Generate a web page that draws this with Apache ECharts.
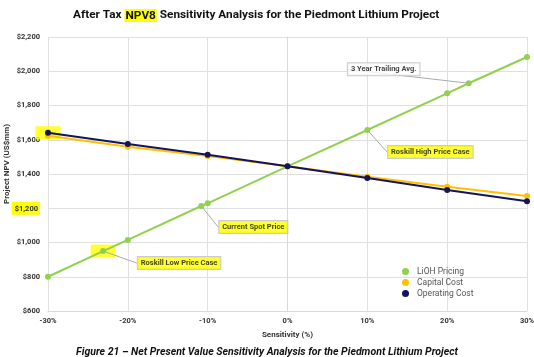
<!DOCTYPE html>
<html><head><meta charset="utf-8">
<script src="https://cdn.jsdelivr.net/npm/echarts@6/dist/echarts.min.js"></script>
<style>html,body{margin:0;padding:0;background:#fff}#c{width:534px;height:357px}</style>
</head><body><div id="c"></div>
<script>
// Sensitivity (%) values and NPV (US$mm)
const lithX = [-30, -23.1, -20, -10.8, -10, 0, 10, 20, 22.7, 30];
const lithY = [800, 950, 1015, 1213, 1229, 1445, 1657, 1871, 1930, 2083];
const costX = [-30, -20, -10, 0, 10, 20, 30];
const capitalY = [1624, 1559, 1505, 1445, 1384, 1326, 1272];
const operatingY = [1641, 1575, 1513, 1445, 1376, 1307, 1241];
const annotX = [22.7, 10, -10.8, -23.1];
const annotY = [1930, 1657, 1213, 950];
const annotText = ['3 Year Trailing Avg.', 'Roskill High Price Case', 'Current Spot Price', 'Roskill Low Price Case'];
const highlightX = [-30, -23.1];
const highlightY = [1641, 950];
const seriesNames = ['LiOH Pricing', 'Capital Cost', 'Operating Cost'];
const titleText = 'After Tax {hl|NPV8} Sensitivity Analysis for the Piedmont Lithium Project';
const captionText = 'Figure 21 \u2013 Net Present Value Sensitivity Analysis for the Piedmont Lithium Project';

const zip = (xs, ys) => xs.map((x, i) => [x, ys[i]]);
const annotStyle = [
  {bg: '#fff', dx: -85, dy: -14},
  {bg: '#FFFF00', dx: 63, dy: 22},
  {bg: '#FFFF00', dx: 52, dy: 21},
  {bg: '#FFFF00', dx: 76, dy: 12}
];
const FONT = 'Roboto';
const chart = echarts.init(document.getElementById('c'));
chart.setOption({
  animation: false,
  textStyle: {fontFamily: FONT},
  title: [{
    text: titleText, left: 68, top: 4,
    textStyle: {fontFamily: FONT, fontSize: 11.8, fontWeight: 'bold', color: '#111',
      rich: {hl: {fontFamily: FONT, fontSize: 11.8, fontWeight: 'bold', color: '#111', backgroundColor: '#FFFF00', padding: [1, 1, 0, 1]}}}
  }, {
    text: captionText, left: 'center', top: 342,
    textStyle: {fontFamily: FONT, fontSize: 10.5, fontWeight: 'bold', fontStyle: 'italic', color: '#111'}
  }],
  grid: {left: 48, right: 7, top: 37, bottom: 46, containLabel: false, outerBoundsMode: 'none'},
  legend: {
    data: seriesNames, orient: 'vertical', left: 397, top: 262, icon: 'circle',
    itemWidth: 7, itemHeight: 7, itemGap: 2,
    textStyle: {fontFamily: FONT, fontSize: 8.5, color: '#555', padding: [0, 0, 0, 3]}
  },
  xAxis: {
    type: 'value', min: -30, max: 30, interval: 10,
    name: 'Sensitivity (%)', nameLocation: 'middle', nameGap: 20, nameMoveOverlap: false,
    nameTextStyle: {fontFamily: FONT, fontSize: 8, fontWeight: 'bold', color: '#333'},
    axisLine: {show: true, lineStyle: {color: '#d9d9d9'}},
    axisTick: {show: false},
    splitLine: {show: true, lineStyle: {color: '#e0e0e0'}},
    axisLabel: {fontFamily: FONT, fontSize: 7.5, fontWeight: 'bold', color: '#333', margin: 6, formatter: v => v + '%'}
  },
  yAxis: {
    type: 'value', min: 600, max: 2200, interval: 200,
    name: 'Project NPV (US$mm)', nameLocation: 'middle', nameGap: 37, nameMoveOverlap: false,
    nameTextStyle: {fontFamily: FONT, fontSize: 8, fontWeight: 'bold', color: '#333', padding: [0, 0, 0, 20]},
    axisLine: {show: true, lineStyle: {color: '#d9d9d9'}},
    axisTick: {show: false},
    splitLine: {show: true, lineStyle: {color: '#e0e0e0'}},
    axisLabel: {fontFamily: FONT, fontSize: 7.5, fontWeight: 'bold', color: '#333', margin: 8,
      formatter: v => {
        const s = '$' + v.toLocaleString('en-US');
        return v === 1200 ? '{hl|' + s + '}' : s;
      },
      rich: {hl: {fontFamily: FONT, fontSize: 7.5, fontWeight: 'bold', color: '#333', backgroundColor: '#FFFF00', padding: [3, 2, 2, 3]}}
    }
  },
  series: [
    {
      name: 'highlight', type: 'scatter', symbol: 'rect', symbolSize: [25, 13], clip: false,
      itemStyle: {color: '#FFFF00'}, silent: true, z: 1,
      data: zip(highlightX, highlightY)
    },
    {
      name: seriesNames[0], type: 'line', data: zip(lithX, lithY), symbol: 'circle', symbolSize: 6,
      lineStyle: {color: '#92D050', width: 2}, itemStyle: {color: '#92D050'}, clip: false, z: 2
    },
    {
      name: seriesNames[1], type: 'line', data: zip(costX, capitalY), symbol: 'circle', symbolSize: 6,
      lineStyle: {color: '#FFC000', width: 2}, itemStyle: {color: '#FFC000'}, clip: false, z: 3
    },
    {
      name: seriesNames[2], type: 'line', data: zip(costX, operatingY), symbol: 'circle', symbolSize: 6,
      lineStyle: {color: '#14145a', width: 2}, itemStyle: {color: '#14145a'}, clip: false, z: 4
    },
    {
      name: 'annotations', type: 'scatter', symbolSize: 0, clip: false, z: 5, silent: true,
      data: annotX.map((x, i) => ({
        value: [x, annotY[i]],
        label: {backgroundColor: annotStyle[i].bg}
      })),
      label: {
        show: true, position: 'inside',
        formatter: p => annotText[p.dataIndex],
        fontFamily: FONT, fontSize: 7.5, fontWeight: 'bold', color: '#111',
        borderColor: '#bfbfbf', borderWidth: 1, padding: [2, 3, 2, 3]
      },
      labelLine: {show: true, lineStyle: {color: '#aaa', width: 1}},
      labelLayout: p => ({dx: annotStyle[p.dataIndex].dx, dy: annotStyle[p.dataIndex].dy})
    }
  ]
});
</script></body></html>
